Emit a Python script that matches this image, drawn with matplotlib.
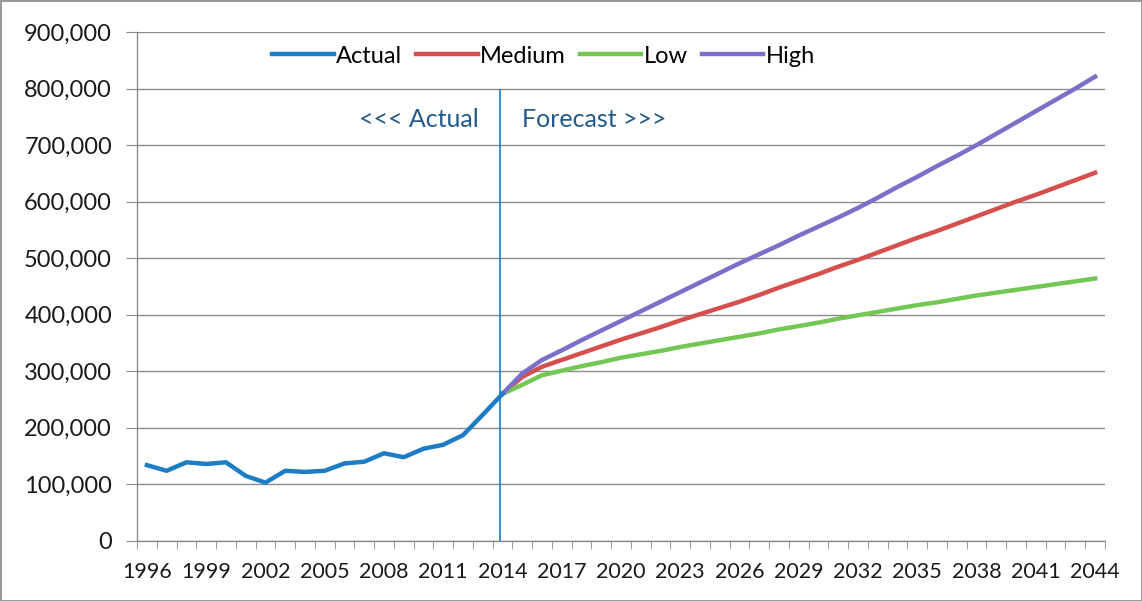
import matplotlib
matplotlib.use('Agg')
import matplotlib.pyplot as plt
from matplotlib.ticker import FuncFormatter
import numpy as np

plt.rcParams['font.family'] = ['Lato', 'DejaVu Sans']

years = list(range(1996, 2045))
actual_years = list(range(1996, 2015))
forecast_years = list(range(2014, 2045))

# values in thousands
actual = [134, 124, 139, 136, 139, 115, 103, 124, 122, 124, 137, 140, 155, 148,
          163, 170, 187, 223, 260]
medium = [260, 290, 308, 320, 332, 344, 356, 367, 378, 390, 401, 412, 423, 435,
          448, 460, 472, 485, 497, 510, 523, 536, 548, 561, 574, 587, 600, 612,
          625, 638, 651]
low = [260, 276, 293, 301, 309, 316, 324, 330, 336, 343, 349, 355, 361, 367,
       374, 380, 386, 393, 399, 405, 411, 417, 422, 428, 434, 439, 444, 449,
       454, 459, 464]
high = [260, 296, 320, 337, 355, 372, 389, 406, 423, 440, 457, 474, 491, 507,
        523, 540, 556, 572, 589, 607, 626, 644, 663, 681, 700, 720, 740, 760,
        780, 800, 821]

c_actual = '#1c7cc4'
c_medium = '#d64f4f'
c_low = '#74c655'
c_high = '#7b70c9'
grid_c = '#8c8c8c'
txt_c = '#1a1a1a'

fig = plt.figure(figsize=(11.42, 6.01), dpi=100)
fig.patch.set_edgecolor('#9a9a9a')
fig.patch.set_linewidth(2)
ax = fig.add_axes([0.12, 0.1, 0.8476, 0.8468])

idx = {y: i for i, y in enumerate(years)}
xa = [idx[y] for y in actual_years]
xf = [idx[y] for y in forecast_years]

ax.plot(xf, np.array(medium) * 1000, color=c_medium, lw=3.2, label='Medium', zorder=3)
ax.plot(xf, np.array(low) * 1000, color=c_low, lw=3.2, label='Low', zorder=3)
ax.plot(xf, np.array(high) * 1000, color=c_high, lw=3.2, label='High', zorder=3)
ax.plot(xa, np.array(actual) * 1000, color=c_actual, lw=3.2, label='Actual', zorder=4)

ax.vlines(idx[2014] - 0.15, 0, 800000, color=c_actual, lw=1.2, zorder=5)
ax.text(idx[2014] - 1.2, 745000, '<<< Actual', ha='right', va='center',
        fontsize=18, color='#235a8a')
ax.text(idx[2014] + 1.0, 745000, 'Forecast >>>', ha='left', va='center',
        fontsize=18, color='#235a8a')

ax.set_xlim(-0.5, len(years) - 0.5)
ax.set_ylim(0, 900000)
ax.set_yticks(np.arange(0, 900001, 100000))
ax.yaxis.set_major_formatter(FuncFormatter(lambda v, p: f'{int(v):,}'))
ax.set_xticks(range(0, len(years), 3))
ax.set_xticklabels([str(y) for y in years[::3]])
ax.set_xticks(np.arange(-0.5, len(years), 1), minor=True)
ax.tick_params(axis='x', which='major', length=0, labelsize=15.5, pad=15,
               labelcolor=txt_c)
ax.tick_params(axis='x', which='minor', length=6, color=grid_c, direction='out')
ax.tick_params(axis='y', length=8, color=grid_c, labelsize=17, pad=10,
               labelcolor=txt_c)

ax.grid(axis='y', color=grid_c, lw=1)
ax.set_axisbelow(True)
for s in ['top', 'right']:
    ax.spines[s].set_visible(False)
for s in ['left', 'bottom']:
    ax.spines[s].set_color(grid_c)
    ax.spines[s].set_linewidth(1)

handles, labels = ax.get_legend_handles_labels()
order = [3, 0, 1, 2]
ax.legend([handles[i] for i in order], [labels[i] for i in order],
          loc='upper center', bbox_to_anchor=(0.42, 1.015), ncol=4, frameon=False,
          fontsize=17, handlelength=2.6, handletextpad=0.1, columnspacing=0.6)

fig.savefig('out.png', dpi=100, edgecolor=fig.get_edgecolor())
